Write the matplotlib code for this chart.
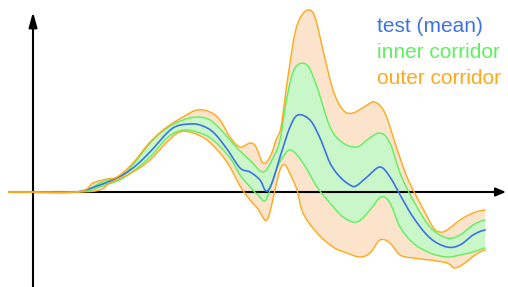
import numpy as np
import matplotlib
matplotlib.use("Agg")
import matplotlib.pyplot as plt

# ---- data (x in time units, y in response units) ----
mean_x = [77, 100, 117, 133, 150, 167, 177, 190, 200, 213, 227, 240, 250, 260, 266, 272, 280, 290, 298, 310, 320, 330, 340, 350, 356, 367, 380, 390, 399, 413, 430, 447, 460, 473, 485]
mean_y = [0, 7, 14, 24, 40, 59, 66, 68, 67, 60, 43, 24, 20, 12, 1, 9, 35, 65, 77, 72, 54, 29, 15, 7, 6, 15, 25, 15, -1, -25, -46, -55, -53, -43, -38]

inner_up_x = [9, 77, 100, 125, 150, 167, 183, 197, 210, 223, 237, 250, 263, 273, 280, 287, 295, 307, 317, 330, 343, 357, 367, 380, 390, 400, 413, 430, 447, 460, 473, 485]
inner_up_y = [0, 0, 9, 19, 49, 64, 72, 75, 72, 60, 44, 32, 20, 34, 52, 95, 124, 127, 105, 65, 49, 45, 52, 59, 49, 19, -8, -35, -46, -43, -33, -28]

inner_lo_x = [9, 77, 100, 125, 150, 167, 183, 200, 213, 230, 240, 250, 258, 266, 275, 283, 291, 303, 317, 330, 343, 357, 370, 381, 390, 400, 413, 430, 447, 460, 473, 485]
inner_lo_y = [0, 0, 5, 15, 35, 54, 62, 59, 52, 34, 17, 5, -3, -8, 19, 35, 42, 29, 5, -11, -25, -30, -18, -5, -11, -35, -51, -61, -65, -63, -60, -56]

outer_up_x = [9, 77, 93, 107, 117, 133, 150, 167, 183, 197, 210, 220, 230, 240, 250, 256, 263, 270, 276, 281, 287, 295, 302, 309, 315, 323, 333, 343, 353, 367, 375, 385, 395, 407, 420, 433, 440, 447, 460, 473, 485]
outer_up_y = [0, 0, 9, 13, 15, 29, 50, 65, 75, 82, 80, 72, 55, 45, 49, 45, 29, 35, 52, 65, 109, 159, 177, 182, 175, 142, 102, 82, 79, 87, 90, 79, 49, 15, -11, -35, -40, -38, -28, -21, -18]

outer_lo_x = [9, 77, 100, 110, 133, 150, 167, 180, 193, 207, 220, 230, 240, 250, 258, 267, 275, 280, 285, 291, 297, 303, 317, 333, 347, 360, 370, 380, 390, 400, 413, 430, 447, 455, 465, 475, 485]
outer_lo_y = [0, 0, 2, 9, 20, 32, 50, 60, 59, 52, 39, 25, 6, -8, -17, -28, 2, 22, 27, 16, 2, -21, -41, -55, -61, -65, -61, -48, -51, -63, -66, -68, -71, -76, -71, -63, -58]

legend_labels = ["test (mean)", "inner corridor", "outer corridor"]

BLUE = "#3b73e6"
GREEN = "#5ef05e"
ORANGE = "#ffa81a"
GREEN_FILL = "#c9f7c9"
ORANGE_FILL = "#fbe3cc"


def smooth(xs, ys, n=12):
    xs = np.asarray(xs, float)
    ys = np.asarray(ys, float)
    px = np.concatenate([[2 * xs[0] - xs[1]], xs, [2 * xs[-1] - xs[-2]]])
    py = np.concatenate([[ys[0]], ys, [ys[-1]]])
    ox, oy = [], []
    t = np.linspace(0, 1, n, endpoint=False)
    for i in range(1, len(px) - 2):
        p0, p1, p2, p3 = [np.array([px[j], py[j]]) for j in (i - 1, i, i + 1, i + 2)]
        for tt in t:
            pt = 0.5 * ((2 * p1) + (-p0 + p2) * tt + (2 * p0 - 5 * p1 + 4 * p2 - p3) * tt ** 2
                        + (-p0 + 3 * p1 - 3 * p2 + p3) * tt ** 3)
            ox.append(pt[0]); oy.append(pt[1])
    ox.append(xs[-1]); oy.append(ys[-1])
    return np.array(ox), np.array(oy)


fig = plt.figure(figsize=(5.08, 2.87), dpi=100)
ax = fig.add_axes([0, 0, 1, 1])
ax.set_xlim(0, 508)
ax.set_ylim(-95, 192)
ax.axis("off")

oux, ouy = smooth(outer_up_x, outer_up_y)
olx, oly = smooth(outer_lo_x, outer_lo_y)
iux, iuy = smooth(inner_up_x, inner_up_y)
ilx, ily = smooth(inner_lo_x, inner_lo_y)
mx, my = smooth(mean_x, mean_y)

ax.fill(np.concatenate([oux, olx[::-1]]), np.concatenate([ouy, oly[::-1]]), color=ORANGE_FILL, lw=0, zorder=1)
ax.fill(np.concatenate([iux, ilx[::-1]]), np.concatenate([iuy, ily[::-1]]), color=GREEN_FILL, lw=0, zorder=2)

# axes with arrows
ax.annotate("", xy=(506, 0), xytext=(9, 0),
            arrowprops=dict(arrowstyle="-|>,head_length=0.6,head_width=0.25", color="black", lw=1.5,
                            shrinkA=0, shrinkB=0), zorder=3)
ax.annotate("", xy=(33, 180), xytext=(33, -96),
            arrowprops=dict(arrowstyle="-|>,head_length=0.9,head_width=0.25", color="black", lw=1.5,
                            shrinkA=0, shrinkB=0), zorder=3)

ax.plot(iux, iuy, color=GREEN, lw=1.0, zorder=4)
ax.plot(ilx, ily, color=GREEN, lw=1.0, zorder=4)
ax.plot(mx, my, color=BLUE, lw=1.2, zorder=5)
ax.plot(oux, ouy, color=ORANGE, lw=1.0, zorder=6)
ax.plot(olx, oly, color=ORANGE, lw=1.0, zorder=6)

for i, (lab, col) in enumerate(zip(legend_labels, [BLUE, GREEN, ORANGE])):
    ax.text(377, 166 - i * 26, lab, color=col, fontsize=15, family="Liberation Sans",
            va="center", ha="left", zorder=7)

fig.savefig("out.png", dpi=100)
